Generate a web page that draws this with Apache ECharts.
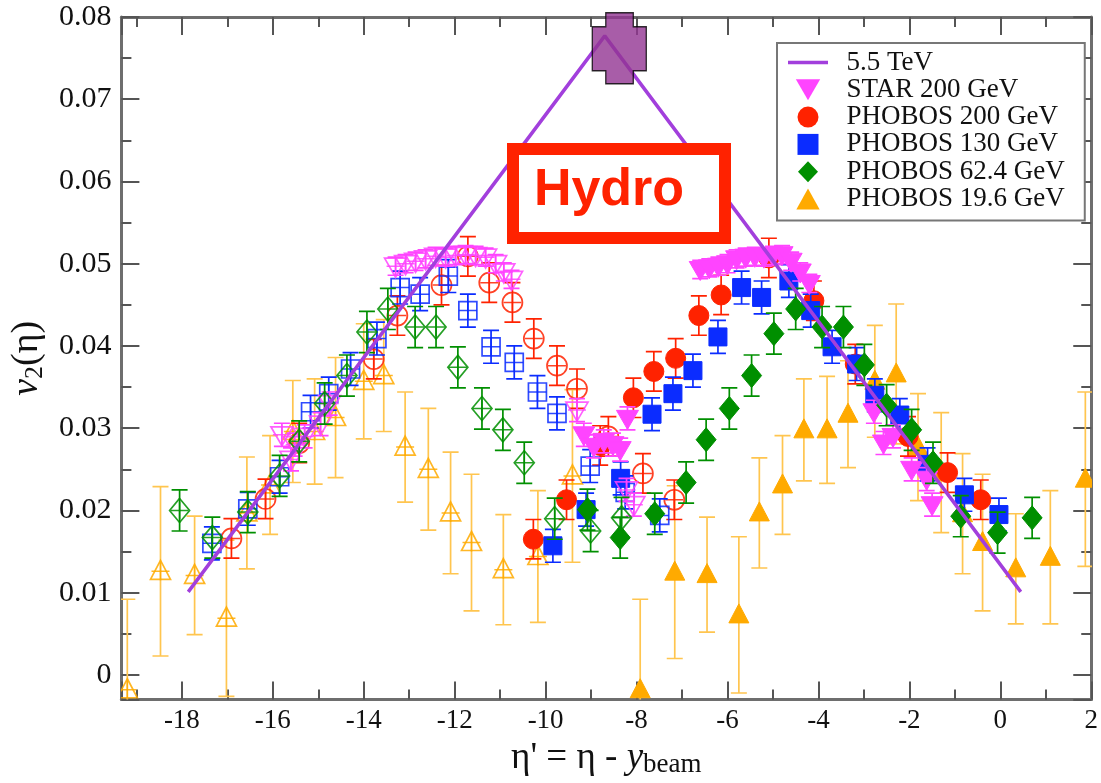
<!DOCTYPE html>
<html><head><meta charset="utf-8">
<script src="https://cdn.jsdelivr.net/npm/echarts@6/dist/echarts.min.js"></script>
<style>html,body{margin:0;padding:0;background:#fff}#c{width:1101px;height:783px}</style>
</head><body><div id="c"></div>
<script>
// ---------------- data (x = eta', y = v2, err) ----------------
const hydroLine = [[-17.86,0.0101],[-8.70,0.0777],[0.45,0.0101]];
const hydroPeak = [[-8.38,0.0762]];

const starFilled = [
 [-6.60,0.0493,0.0011],[-6.40,0.0495,0.0011],[-6.20,0.0497,0.0011],[-6.00,0.0500,0.0011],
 [-5.80,0.0506,0.0011],[-5.60,0.0508,0.0011],[-5.40,0.0509,0.0011],[-5.20,0.0508,0.0011],
 [-5.00,0.0510,0.0011],[-4.80,0.0511,0.0011],[-4.60,0.0503,0.0011],[-4.40,0.0490,0.0011],
 [-4.20,0.0476,0.0011],
 [-2.78,0.0320,0.0014],[-2.57,0.0282,0.0014],[-2.36,0.0290,0.0014],[-1.95,0.0250,0.0014],
 [-1.62,0.0238,0.0014],[-1.50,0.0207,0.0014],
 [-9.16,0.0292,0.0014],[-8.94,0.0278,0.0014],[-8.72,0.0284,0.0014],[-8.52,0.0280,0.0014],
 [-8.36,0.0274,0.0014],[-8.20,0.0312,0.0014]
];
const starOpen = [
 [-13.30,0.0497,0.0011],[-13.08,0.0500,0.0011],[-12.86,0.0503,0.0011],[-12.64,0.0506,0.0011],
 [-12.42,0.0509,0.0011],[-12.20,0.0508,0.0011],[-11.98,0.0510,0.0011],[-11.76,0.0511,0.0011],
 [-11.54,0.0510,0.0011],[-11.32,0.0508,0.0011],[-11.10,0.0500,0.0011],[-10.92,0.0490,0.0011],
 [-10.75,0.0481,0.0011],
 [-15.80,0.0292,0.0014],[-15.60,0.0262,0.0014],[-15.52,0.0280,0.0014],[-15.30,0.0290,0.0014],
 [-14.95,0.0305,0.0014],[-14.75,0.0330,0.0014],
 [-9.31,0.0322,0.0014],[-8.22,0.0225,0.0014],[-8.06,0.0207,0.0014]
];

const p200Filled = [
 [-10.27,0.0165,0.0024],[-9.54,0.0213,0.0024],[-8.80,0.0279,0.0024],[-8.07,0.0337,0.0024],
 [-7.62,0.0369,0.0024],[-7.14,0.0385,0.0024],[-6.63,0.0437,0.0024],[-6.14,0.0462,0.0024],
 [-5.09,0.0507,0.0024],[-4.10,0.0455,0.0024],[-3.19,0.0378,0.0024],[-2.03,0.0290,0.0024],
 [-1.16,0.0246,0.0024],[-0.43,0.0213,0.0024]
];
const p200Open = [
 [-16.91,0.0166,0.0024],[-16.16,0.0214,0.0024],[-15.42,0.0282,0.0024],[-13.78,0.0384,0.0024],
 [-13.26,0.0437,0.0024],[-12.29,0.0474,0.0024],[-11.71,0.0509,0.0024],[-11.24,0.0477,0.0024],
 [-10.73,0.0453,0.0024],[-10.26,0.0409,0.0024],[-9.75,0.0376,0.0024],[-9.31,0.0348,0.0024],
 [-8.62,0.0290,0.0024],[-7.86,0.0245,0.0024],[-7.17,0.0213,0.0024]
];

const p130Filled = [
 [-9.84,0.0157,0.0020],[-9.11,0.0201,0.0020],[-8.35,0.0239,0.0020],[-7.66,0.0317,0.0020],
 [-7.20,0.0342,0.0020],[-6.76,0.0370,0.0020],[-6.21,0.0411,0.0020],[-5.69,0.0471,0.0020],
 [-5.25,0.0459,0.0020],[-4.65,0.0479,0.0020],[-4.17,0.0443,0.0020],[-3.70,0.0399,0.0020],
 [-3.16,0.0378,0.0020],[-2.76,0.0340,0.0020],[-2.21,0.0316,0.0020],[-1.60,0.0256,0.0020],
 [-0.79,0.0219,0.0020],[-0.03,0.0195,0.0020]
];
const p130Open = [
 [-17.34,0.0160,0.0020],[-16.55,0.0202,0.0020],[-15.85,0.0241,0.0020],[-15.17,0.0320,0.0020],
 [-14.77,0.0342,0.0020],[-14.29,0.0372,0.0020],[-13.71,0.0409,0.0020],[-13.20,0.0471,0.0020],
 [-12.76,0.0463,0.0020],[-12.14,0.0485,0.0020],[-11.71,0.0443,0.0020],[-11.20,0.0399,0.0020],
 [-10.69,0.0380,0.0020],[-10.18,0.0344,0.0020],[-9.75,0.0318,0.0020],[-9.02,0.0254,0.0020],
 [-8.25,0.0222,0.0020],[-7.49,0.0194,0.0020]
];

const p62Filled = [
 [-9.08,0.0201,0.0025],[-8.36,0.0167,0.0025],[-7.60,0.0196,0.0025],[-6.91,0.0234,0.0025],
 [-6.47,0.0286,0.0025],[-5.96,0.0324,0.0025],[-5.47,0.0364,0.0025],[-4.98,0.0415,0.0025],
 [-4.50,0.0445,0.0025],[-3.92,0.0423,0.0025],[-3.45,0.0423,0.0025],[-2.99,0.0377,0.0025],
 [-2.50,0.0328,0.0025],[-1.95,0.0298,0.0025],[-1.48,0.0258,0.0025],[-0.87,0.0193,0.0025],
 [-0.06,0.0173,0.0025],[0.70,0.0191,0.0025]
];
const p62Open = [
 [-18.05,0.0200,0.0025],[-17.33,0.0167,0.0025],[-16.55,0.0198,0.0025],[-15.85,0.0242,0.0025],
 [-15.42,0.0284,0.0025],[-14.86,0.0330,0.0025],[-14.37,0.0364,0.0025],[-13.93,0.0417,0.0025],
 [-13.47,0.0445,0.0025],[-12.87,0.0423,0.0025],[-12.41,0.0423,0.0025],[-11.93,0.0374,0.0025],
 [-11.40,0.0324,0.0025],[-10.94,0.0298,0.0025],[-10.47,0.0258,0.0025],[-9.80,0.0190,0.0025],
 [-9.01,0.0175,0.0025],[-8.33,0.0191,0.0025]
];

const p19Filled = [
 [-7.92,-0.0018,0.0110],[-7.16,0.0125,0.0105],[-6.45,0.0122,0.0070],[-5.75,0.0073,0.0095],
 [-5.30,0.0197,0.0067],[-4.79,0.0231,0.0060],[-4.32,0.0298,0.0062],[-3.81,0.0298,0.0065],
 [-3.35,0.0317,0.0065],[-2.76,0.0357,0.0068],[-2.29,0.0366,0.0085],[-1.81,0.0277,0.0065],
 [-1.30,0.0246,0.0073],[-0.83,0.0196,0.0073],[-0.39,0.0161,0.0083],[0.34,0.0129,0.0067],
 [1.10,0.0143,0.0081],[1.87,0.0238,0.0106]
];
const p19Open = [
 [-19.20,-0.0018,0.0110],[-18.47,0.0126,0.0103],[-17.72,0.0121,0.0072],[-17.02,0.0069,0.0095],
 [-16.57,0.0197,0.0068],[-16.06,0.0231,0.0060],[-15.56,0.0296,0.0062],[-15.08,0.0296,0.0064],
 [-14.62,0.0313,0.0073],[-14.00,0.0357,0.0070],[-13.56,0.0364,0.0068],[-13.09,0.0277,0.0067],
 [-12.58,0.0250,0.0074],[-12.09,0.0197,0.0074],[-11.63,0.0161,0.0083],[-10.93,0.0128,0.0067],
 [-10.17,0.0144,0.0080],[-9.41,0.0242,0.0105]
];

const X_MIN = -19.33, X_MAX = 2, Y_MIN = -0.003, Y_MAX = 0.08;

// ---------------- rendering helpers ----------------
const SHAPES = {
  circle: (cx,cy)=>({type:'circle', shape:{cx:cx,cy:cy,r:10}}),
  square: (cx,cy)=>({type:'rect', shape:{x:cx-9,y:cy-9,width:18,height:18}}),
  diamond: (cx,cy)=>({type:'polygon', shape:{points:[[cx,cy-12],[cx+10,cy],[cx,cy+12],[cx-10,cy]]}}),
  triangle: (cx,cy)=>({type:'polygon', shape:{points:[[cx,cy-11],[cx+10,cy+8],[cx-10,cy+8]]}}),
  invtri: (cx,cy)=>({type:'polygon', shape:{points:[[cx-11,cy-8],[cx+11,cy-8],[cx,cy+11]]}})
};

function buildSeries(name, shape, color, barColor, filled, open, z) {
  const data = filled.map(p => [p[0], p[1], p[2], 0]).concat(open.map(p => [p[0], p[1], p[2], 1]));
  return {
    name: name, type: 'custom', data: data, clip: true, z: z,
    itemStyle: {color: color},
    encode: {x: 0, y: 1},
    renderItem: function (params, api) {
      const x = api.value(0), y = api.value(1), e = api.value(2), isOpen = api.value(3);
      const p = api.coord([x, y]);
      const t = api.coord([x, y + e]);
      const b = api.coord([x, y - e]);
      const cap = 8;
      const ls = {stroke: barColor, lineWidth: 1.7};
      const ch = [
        {type:'line', shape:{x1:p[0],y1:t[1],x2:p[0],y2:b[1]}, style:ls},
        {type:'line', shape:{x1:p[0]-cap,y1:t[1],x2:p[0]+cap,y2:t[1]}, style:ls},
        {type:'line', shape:{x1:p[0]-cap,y1:b[1],x2:p[0]+cap,y2:b[1]}, style:ls}
      ];
      const sym = SHAPES[shape](p[0], p[1]);
      if (isOpen) {
        sym.style = {fill: 'none', stroke: color, lineWidth: 1.7, opacity: 0.85};
        ch.push(sym);
        ch.push({type:'line', shape:{x1:p[0]-9,y1:p[1],x2:p[0]+9,y2:p[1]}, style:{stroke: color, lineWidth: 1.5, opacity: 0.85}});
        ch.push({type:'line', shape:{x1:p[0],y1:p[1]-9,x2:p[0],y2:p[1]+9}, style:{stroke: color, lineWidth: 1.5, opacity: 0.85}});
      } else {
        sym.style = {fill: color, stroke: color, lineWidth: 1};
        ch.push(sym);
      }
      return {type: 'group', children: ch};
    }
  };
}

const serif = 'Liberation Serif';
const axisCol = '#6e6e6e';
function frameAxis(extra) {
  return Object.assign({
    type: 'value', scale: true,
    axisLine: {show: true, onZero: false, lineStyle: {color: axisCol, width: 3}},
    axisTick: {show: true, inside: true, length: 18, lineStyle: {color: '#555', width: 2}},
    minorTick: {show: true, splitNumber: 2, length: 10, lineStyle: {color: '#555', width: 2}},
    splitLine: {show: false}, minorSplitLine: {show: false}
  }, extra);
}

const chart = echarts.init(document.getElementById('c'), null, {renderer: 'canvas'});
chart.setOption({
  animation: false,
  backgroundColor: '#fff',
  grid: {left: 120, right: 4, top: 17, bottom: 80},
  xAxis: [
    frameAxis({
      position: 'bottom', min: X_MIN, max: X_MAX, minInterval: 2, maxInterval: 2, splitNumber: 11,
      axisLabel: {show: true, showMinLabel: false, fontFamily: serif, fontSize: 27, color: '#111', margin: 8,
        formatter: v => String(Math.round(v))},
      name: '{n|η\' = η - }{i|y}{s|beam}', nameLocation: 'middle', nameGap: 31,
      nameTextStyle: {fontFamily: serif, fontSize: 37, color: '#111', rich: {
        n: {fontFamily: serif, fontSize: 37, color: '#111', lineHeight: 40},
        i: {fontFamily: serif, fontSize: 37, fontStyle: 'italic', color: '#111', lineHeight: 40},
        s: {fontFamily: serif, fontSize: 27, color: '#111', lineHeight: 16, verticalAlign: 'bottom'}
      }}
    }),
    frameAxis({
      position: 'top', min: X_MIN, max: X_MAX, minInterval: 2, maxInterval: 2, splitNumber: 11,
      axisLabel: {show: false}
    })
  ],
  yAxis: [
    frameAxis({
      position: 'left', min: Y_MIN, max: Y_MAX, minInterval: 0.01, maxInterval: 0.01, splitNumber: 8,
      axisLabel: {show: true, showMinLabel: false, fontFamily: serif, fontSize: 30, color: '#111', margin: 10,
        formatter: v => Math.abs(v) < 1e-9 ? '0' : v.toFixed(2)},
      name: '{i|v}{s|2}{n|(η)}', nameLocation: 'middle', nameGap: 60, nameRotate: 90,
      nameTextStyle: {fontFamily: serif, fontSize: 38, color: '#111', rich: {
        i: {fontFamily: serif, fontSize: 38, fontStyle: 'italic', color: '#111', lineHeight: 42},
        s: {fontFamily: serif, fontSize: 26, color: '#111', lineHeight: 16, verticalAlign: 'bottom'},
        n: {fontFamily: serif, fontSize: 38, color: '#111', lineHeight: 42}
      }}
    }),
    frameAxis({
      position: 'right', min: Y_MIN, max: Y_MAX, minInterval: 0.01, maxInterval: 0.01, splitNumber: 8,
      axisLabel: {show: false}
    })
  ],
  legend: {
    orient: 'vertical', left: 777, top: 43,
    padding: [6, 20, 8, 11],
    backgroundColor: '#fff', borderColor: '#777', borderWidth: 2,
    itemWidth: 40, itemHeight: 21, itemGap: 0.3, symbolKeepAspect: true,
    textStyle: {fontFamily: serif, fontSize: 27, lineHeight: 26, color: '#111'},
    formatter: n => '  ' + n,
    data: [
      {name: '5.5 TeV', icon: 'path://M0,0 L40,0 L40,3.5 L0,3.5 Z'},
      {name: 'STAR 200 GeV', icon: 'path://M0,0 L22,0 L11,19 Z'},
      {name: 'PHOBOS 200 GeV', icon: 'circle'},
      {name: 'PHOBOS 130 GeV', icon: 'path://M0,0 L18,0 L18,18 L0,18 Z'},
      {name: 'PHOBOS 62.4 GeV', icon: 'path://M10,0 L20,10.5 L10,21 L0,10.5 Z'},
      {name: 'PHOBOS 19.6 GeV', icon: 'path://M10,0 L20,18 L0,18 Z'}
    ]
  },
  graphic: [
    {type: 'rect', z: 100, shape: {x: 513, y: 149, width: 212, height: 89},
     style: {fill: '#fff', stroke: '#ff2200', lineWidth: 12}},
    {type: 'text', z: 101, x: 609, y: 191,
     style: {text: 'Hydro', font: 'bold 52px "Liberation Sans"', fill: '#ff2200', align: 'center', verticalAlign: 'middle'}}
  ],
  series: [
    buildSeries('PHOBOS 19.6 GeV', 'triangle', '#ffaa00', '#ffc54f', p19Filled, p19Open, 2),
    buildSeries('PHOBOS 200 GeV', 'circle', '#ff2200', '#ff2200', p200Filled, p200Open, 3),
    buildSeries('PHOBOS 130 GeV', 'square', '#0b2cff', '#0b2cff', p130Filled, p130Open, 4),
    buildSeries('STAR 200 GeV', 'invtri', '#ff44ff', '#ff44ff', starFilled, starOpen, 5),
    buildSeries('PHOBOS 62.4 GeV', 'diamond', '#008f00', '#008f00', p62Filled, p62Open, 6),
    {name: '5.5 TeV', type: 'line', data: hydroLine, symbol: 'none', z: 8,
     lineStyle: {color: '#a23fdc', width: 3.5}, itemStyle: {color: '#a23fdc'}},
    {name: 'peak', type: 'scatter', data: hydroPeak, z: 20, clip: false, silent: true,
     symbol: 'path://M13.5,0 L41,0 L41,14 L54,14 L54,58 L41,58 L41,71 L13.5,71 L13.5,58 L0,58 L0,14 L13.5,14 Z',
     symbolSize: [54, 71],
     itemStyle: {color: '#923592', borderColor: '#000', borderWidth: 1.5}}
  ]
});
</script>
</body></html>
